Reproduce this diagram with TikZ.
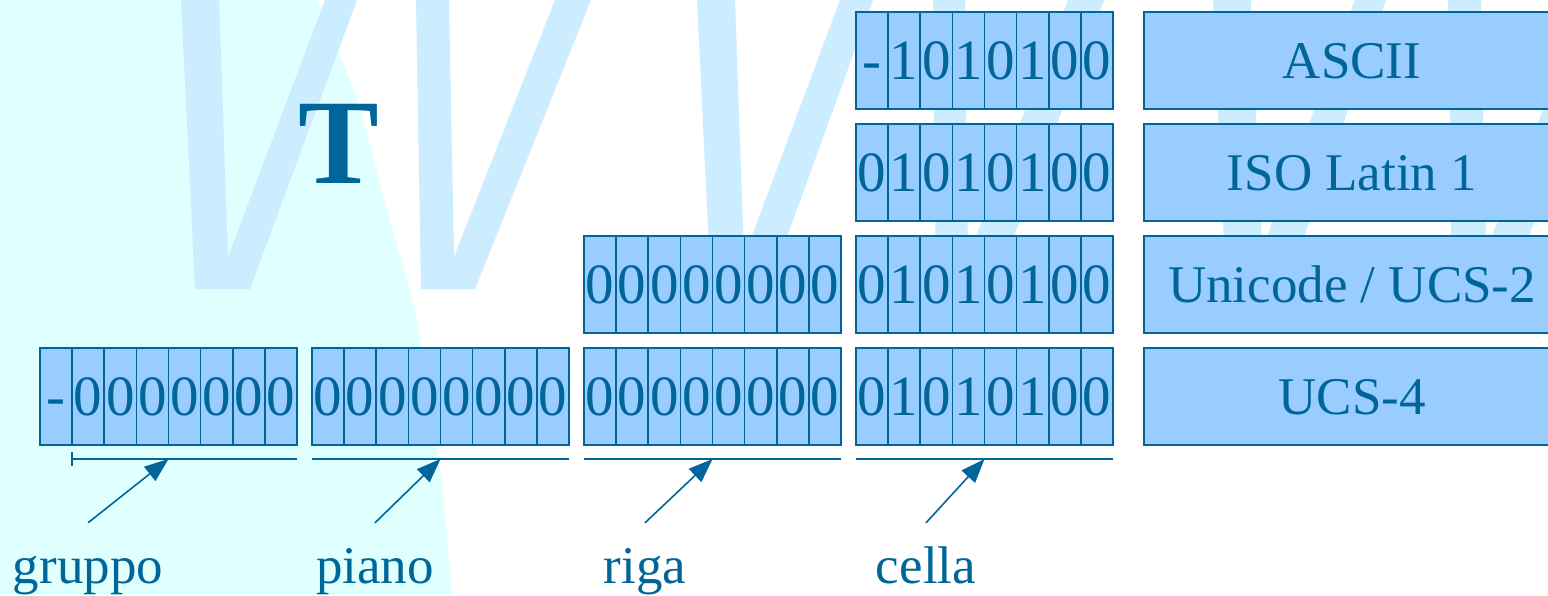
\documentclass[tikz,border=0pt]{standalone}
\usepackage{fontspec}
\setmainfont{Liberation Serif}
\usetikzlibrary{arrows.meta}
\definecolor{dblue}{HTML}{006699}
\definecolor{cellblue}{HTML}{99CCFF}
\definecolor{wmark}{HTML}{CCECFF}
\definecolor{cyanbg}{HTML}{E0FFFF}
\newcommand{\mybitrow}[3]{%
  \foreach \b [count=\i from 0] in {#3} {
    \node[bitcell] (b#1#2\i) at ({40+272*#2+32.125*(\i+0.5)}, {60.5+112*#1}) {\b};
  }}
\begin{document}
\begin{tikzpicture}[x=1pt,y=-1pt,
  bitcell/.style={draw=dblue, fill=cellblue, line width=1.6pt, minimum width=32.125pt, minimum height=97pt, inner sep=0pt, text height=38.5pt, text depth=0pt, font=\fontsize{57}{60}\selectfont, text=dblue},
  codebox/.style={draw=dblue, fill=cellblue, line width=1.6pt, minimum width=416pt, minimum height=97pt, inner sep=0pt, font=\fontsize{53}{60}\selectfont, text=dblue, text height=36pt, text depth=0pt},
  bracketline/.style={draw=dblue, line width=1.6pt},
  pointer/.style={draw=dblue, line width=1.6pt, -{Triangle[length=24pt,width=18pt]}},
  fieldlabel/.style={font=\fontsize{53}{60}\selectfont, text=dblue, text height=36pt, text depth=12pt, inner xsep=0pt, inner ysep=24pt, anchor=base}
]
\useasboundingbox (0,0) rectangle (1548,595);
\clip (0,0) rectangle (1548,595);
\fill[white] (0,0) rectangle (1548,595);
% cyan background
\fill[cyanbg] plot[smooth] coordinates {(317,0) (357,100) (384,200) (412,300) (431,400) (443,495) (452,595)} -- (0,595) -- (0,0) -- cycle;
% watermark
\fill[wmark] (181,0) -- (195,289) -- (250,289) -- (357,0) -- (325,0) -- (228,257) -- (219,0) -- cycle;
\fill[wmark] (416,0) -- (421,289) -- (475,289) -- (591,0) -- (555,0) -- (454,257) -- (449,0) -- cycle;
\fill[wmark] (697,0) -- (711,289) -- (768,289) -- (873,0) -- (840,0) -- (744,257) -- (735,0) -- cycle;
\fill[wmark] (933,0) -- (936,289) -- (994,289) -- (1104,0) -- (1068,0) -- (968,257) -- (965,0) -- cycle;
\fill[wmark] (1213,0) -- (1226,289) -- (1286,289) -- (1386,0) -- (1355,0) -- (1262,250) -- (1251,0) -- cycle;
\fill[wmark] (1448,0) -- (1452,289) -- (1507,289) -- (1625,0) -- (1588,0) -- (1486,250) -- (1481,0) -- cycle;
% title letter
\node[font=\fontsize{121}{130}\selectfont\bfseries, text=dblue, anchor=base, inner sep=0pt] (tt) at (339,183) {T};
% bit rows
\mybitrow{0}{3}{-,1,0,1,0,1,0,0}
\mybitrow{1}{3}{0,1,0,1,0,1,0,0}
\mybitrow{2}{2}{0,0,0,0,0,0,0,0}
\mybitrow{2}{3}{0,1,0,1,0,1,0,0}
\mybitrow{3}{0}{-,0,0,0,0,0,0,0}
\mybitrow{3}{1}{0,0,0,0,0,0,0,0}
\mybitrow{3}{2}{0,0,0,0,0,0,0,0}
\mybitrow{3}{3}{0,1,0,1,0,1,0,0}
% code boxes
\node[codebox] (ascii) at (1352,60.5) {ASCII};
\node[codebox] (latin) at (1352,172.5) {ISO Latin 1};
\node[codebox] (ucs2) at (1352,284.5) {Unicode / UCS-2};
\node[codebox] (ucs4) at (1352,396.5) {UCS-4};
% brackets
\coordinate (bl0) at (72,459);   \coordinate (br0) at (297,459);  \coordinate (bm0) at (168.5,459);
\coordinate (bl1) at (312,459);  \coordinate (br1) at (569,459);  \coordinate (bm1) at (440.5,459);
\coordinate (bl2) at (584,459);  \coordinate (br2) at (841,459);  \coordinate (bm2) at (712.5,459);
\coordinate (bl3) at (856,459);  \coordinate (br3) at (1113,459); \coordinate (bm3) at (984.5,459);
\draw[bracketline] (bl0) -- (br0);
\draw[bracketline] (bl0) ++(0,-7) -- ++(0,14);
\draw[bracketline] (bl1) -- (br1);
\draw[bracketline] (bl2) -- (br2);
\draw[bracketline] (bl3) -- (br3);
% labels
\node[fieldlabel] (lgruppo) at (88,583) {gruppo};
\node[fieldlabel] (lpiano) at (375,583) {piano};
\node[fieldlabel] (lriga) at (645,583) {riga};
\node[fieldlabel] (lcella) at (926,583) {cella};
% pointers
\draw[pointer] (lgruppo.north) -- (bm0);
\draw[pointer] (lpiano.north) -- (bm1);
\draw[pointer] (lriga.north) -- (bm2);
\draw[pointer] (lcella.north) -- (bm3);
\end{tikzpicture}
\end{document}
